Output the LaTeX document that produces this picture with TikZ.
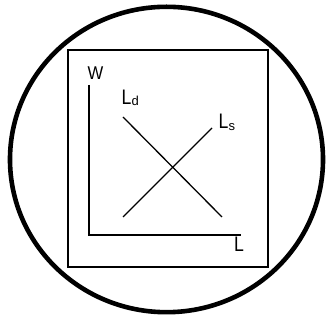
\documentclass[tikz,border=0pt]{standalone}
\usepackage{fontspec}
\setmainfont{Liberation Sans}
\newcommand{\sublab}[1]{\raisebox{-1.7pt}{\fontsize{13}{13}\selectfont #1}}
\newcommand{\biglab}[1]{\scalebox{0.84}[1]{\fontsize{21}{21}\selectfont #1}}
\begin{document}
\begin{tikzpicture}[x=1pt,y=-1pt,
  lab/.style={inner sep=0pt,anchor=base west},
  curve/.style={line width=1.3pt}]
\useasboundingbox (0,0) rectangle (327,320);
\draw[line width=4.6pt] (166.5,159.5) ellipse [x radius=156.5, y radius=152.7];
\draw[line width=1.2pt] (68,50) rectangle (268,267);
\coordinate (ytop) at (89,85);
\coordinate (orig) at (89,235);
\coordinate (xend) at (241,235);
\draw[line width=1.5pt] (ytop) -- (orig) -- (xend);
\coordinate (d1) at (123,117);
\coordinate (d2) at (222,217);
\coordinate (s1) at (123,217);
\coordinate (s2) at (212,128);
\draw[curve] (d1) -- (d2);
\draw[curve] (s1) -- (s2);
\node[lab] (w) at (87.5,80) {\scalebox{0.9}[1]{\fontsize{18.5}{18.5}\selectfont W}};
\node[lab] (ld) at (121.5,104.3) {\biglab{L}\sublab{d}};
\node[lab] (ls) at (218.5,129) {\biglab{L}\sublab{s}};
\node[lab] (l) at (234,251.3) {\biglab{L}};
\end{tikzpicture}
\end{document}
